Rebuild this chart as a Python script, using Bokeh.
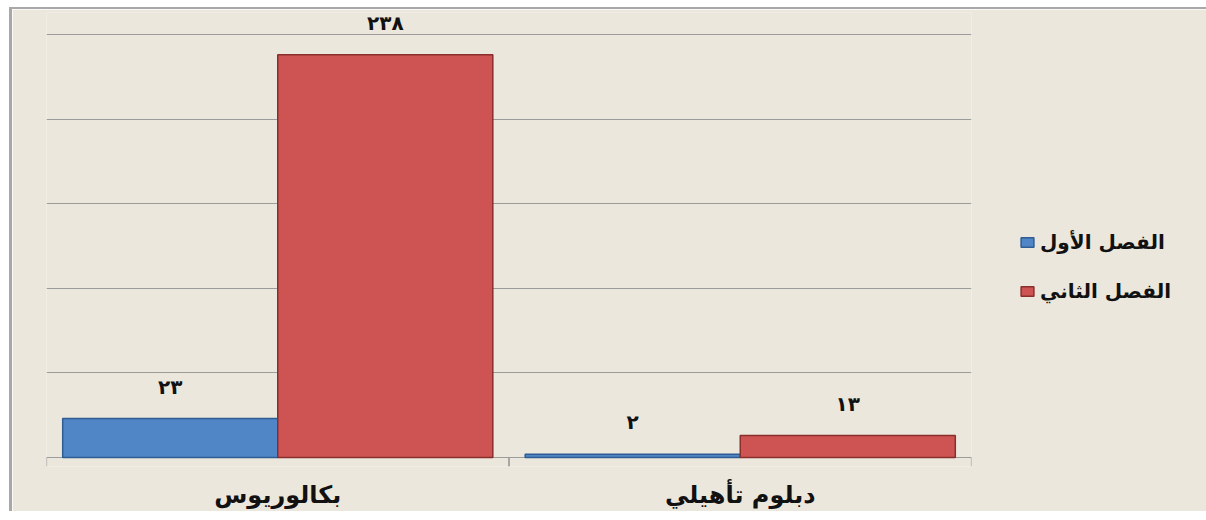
from bokeh.plotting import figure
from bokeh.models import (ColumnDataSource, FactorRange, Range1d, FixedTicker,
                          Legend, LegendItem)
from bokeh.transform import dodge
from bokeh.core.properties import value
from bokeh.embed import file_html
from bokeh.resources import INLINE

# ---- data ----
categories = ["بكالوريوس", "دبلوم تأهيلي"]
series_names = ["الفصل الأول", "الفصل الثاني"]
first_term = [23, 2]
second_term = [238, 13]
grid_ticks = [0, 50, 100, 150, 200, 250]

AR_DIGITS = str.maketrans("0123456789", "٠١٢٣٤٥٦٧٨٩")


def ar(n):
    return str(n).translate(AR_DIGITS)


BG = "#ece7dc"
BLUE = "#5186c6"
BLUE_EDGE = "#2f5c92"
RED = "#cd5452"
RED_EDGE = "#8a2e2c"
FONT = "DejaVu Sans"

src = ColumnDataSource(dict(
    cat=categories,
    s1=first_term,
    s2=second_term,
    l1=[ar(v) for v in first_term],
    l2=[ar(v) for v in second_term],
    zero=[0] * len(categories),
))

p = figure(frame_width=925, frame_height=454,
           x_range=FactorRange(factors=categories, range_padding=0),
           y_range=Range1d(-5.3, 263.0),
           output_backend="svg", toolbar_location=None,
           min_border_left=34, min_border_right=0,
           min_border_top=3, min_border_bottom=38)

p.styles = {"margin-left": "9px", "margin-top": "7px",
            "border-left": "3px solid #a8a8a8", "border-top": "2px solid #a8a8a8"}
p.background_fill_color = BG
p.border_fill_color = BG
p.outline_line_color = None

p.yaxis.visible = False
p.xgrid.visible = False
p.ygrid.ticker = FixedTicker(ticks=grid_ticks)
p.ygrid.grid_line_color = "#9c9c9c"
p.ygrid.grid_line_width = 1.2

p.xaxis.axis_line_color = None
p.xaxis.major_tick_line_color = None
p.xaxis.minor_tick_line_color = None
p.xaxis.major_label_standoff = 8
p.xaxis.major_label_text_font = FONT
p.xaxis.major_label_text_font_style = "bold"
p.xaxis.major_label_text_font_size = "24px"
p.xaxis.major_label_text_color = "#111111"

# category boundary ticks
for off in (-0.5, 0.5):
    p.segment(x0=dodge("cat", off, range=p.x_range), y0="zero",
              x1=dodge("cat", off, range=p.x_range), y1=-5.3,
              source=src, line_color="#9c9c9c", line_width=1.2)

bw = 0.465
r1 = p.vbar(x=dodge("cat", -0.2325, range=p.x_range), top="s1", width=bw,
            source=src, fill_color=BLUE, line_color=BLUE_EDGE, line_width=1.5)
r2 = p.vbar(x=dodge("cat", 0.2325, range=p.x_range), top="s2", width=bw,
            source=src, fill_color=RED, line_color=RED_EDGE, line_width=1.5)

for off, col in ((-0.2325, "s1"), (0.2325, "s2")):
    p.text(x=dodge("cat", off, range=p.x_range), y=col,
           text="l1" if col == "s1" else "l2", source=src,
           text_align="center", text_baseline="bottom", y_offset=-20,
           text_font=value(FONT), text_font_style="bold",
           text_font_size="20px", text_color="#111111")

legend = Legend(items=[LegendItem(label=series_names[0], renderers=[r1]),
                       LegendItem(label=series_names[1], renderers=[r2])],
                location=(48, 163))
legend.background_fill_alpha = 0
legend.border_line_color = None
legend.label_text_font = FONT
legend.label_text_font_style = "bold"
legend.label_text_font_size = "20px"
legend.label_text_color = "#111111"
legend.glyph_width = 16
legend.glyph_height = 12
legend.label_standoff = 5
legend.spacing = 25
legend.margin = 0
legend.padding = 5
p.add_layout(legend, "right")

open("out.html", "w").write(file_html(p, INLINE))
